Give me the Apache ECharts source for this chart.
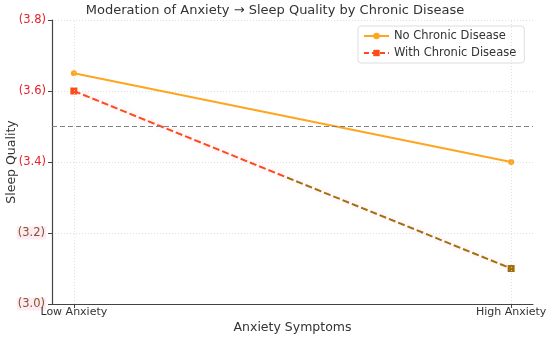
<!DOCTYPE html>
<html><head><meta charset="utf-8">
<script src="https://cdn.jsdelivr.net/npm/echarts@6/dist/echarts.min.js"></script>
<style>html,body{margin:0;padding:0;background:#fff}#c{width:550px;height:340px}</style>
</head><body><div id="c"></div>
<script>
var categories = ['Low Anxiety', 'High Anxiety'];
var noChronic = [3.65, 3.40];
var withChronic = [3.60, 3.10];
var yTicks = [3.0, 3.2, 3.4, 3.6, 3.8];
var refValue = 3.5;
var seriesNames = ['No Chronic Disease', 'With Chronic Disease'];

var FONT = 'DejaVu Sans';
var ORANGE = '#ffa51f';
var RED = '#ff4a1c';
var BROWN = '#a0700c';
var LABEL_RED = '#e8202a';
var LABEL_BROWN = '#85562c';

function pts(arr){ return arr.map(function(v,i){ return [i, v]; }); }

var chart = echarts.init(document.getElementById('c'));
chart.setOption({
  animation: false,
  textStyle: { fontFamily: FONT },
  title: {
    text: 'Moderation of Anxiety \u2192 Sleep Quality by Chronic Disease',
    left: 'center', top: -1,
    textStyle: { fontFamily: FONT, fontSize: 13, fontWeight: 'normal', color: '#333' }
  },
  legend: {
    orient: 'vertical', left: 358, top: 26,
    padding: [4, 8, 4, 5], itemGap: 5, itemWidth: 25, itemHeight: 8,
    backgroundColor: '#fff',
    borderColor: '#ddd', borderWidth: 1, borderRadius: 3,
    textStyle: { fontFamily: FONT, fontSize: 11.5, color: '#333' },
    data: [
      { name: seriesNames[0], itemStyle: { color: ORANGE }, lineStyle: { color: ORANGE } },
      { name: seriesNames[1], itemStyle: { color: RED }, lineStyle: { color: RED, type: [5, 3] } }
    ]
  },
  grid: { left: 52, right: 17, top: 20, bottom: 36, containLabel: false, outerBoundsMode: 'none' },
  xAxis: {
    type: 'value', min: -0.05, max: 1.05,
    name: 'Anxiety Symptoms', nameLocation: 'middle', nameGap: 17, nameMoveOverlap: false,
    nameTextStyle: { fontFamily: FONT, fontSize: 12.5, color: '#333' },
    axisLine: { show: true, onZero: false, lineStyle: { color: '#444', width: 1.2 } },
    axisTick: { show: true, customValues: [0, 1], length: 4, lineStyle: { color: '#444' } },
    axisLabel: { customValues: [0, 1], margin: 3, fontFamily: FONT, fontSize: 11, color: '#333',
      formatter: function(v){ return categories[Math.round(v)]; } },
    splitLine: { show: false }
  },
  yAxis: {
    type: 'value', min: 3.0, max: 3.8, interval: 0.2,
    name: 'Sleep Quality', nameLocation: 'middle', nameGap: 34, nameRotate: 90, nameMoveOverlap: false,
    nameTextStyle: { fontFamily: FONT, fontSize: 12.5, color: '#333' },
    axisLine: { show: true, onZero: false, lineStyle: { color: '#444', width: 1.2 } },
    axisTick: { show: true, length: 4, lineStyle: { color: '#444' } },
    axisLabel: { margin: 6, fontFamily: FONT, fontSize: 11.5,
      color: function(v){ return parseFloat(v) < 3.3 ? LABEL_BROWN : LABEL_RED; },
      formatter: function(v){
        var s = '(' + v.toFixed(1) + ')';
        return v < 3.3 ? '{b|' + s + '}' : s;
      },
      rich: {
        b: { color: LABEL_BROWN, fontFamily: FONT, fontSize: 11.5, backgroundColor: '#fdeaf2', padding: [1, 1, 0, 1] }
      }
    },
    splitLine: { show: true, lineStyle: { color: '#d8d8d8', type: [1, 2], width: 0.8 } }
  },
  series: [
    {
      name: seriesNames[0], type: 'line', data: pts(noChronic),
      symbol: 'circle', symbolSize: 6,
      itemStyle: { color: ORANGE },
      lineStyle: { color: ORANGE, width: 2 },
      z: 3,
      markLine: {
        silent: true, symbol: 'none', label: { show: false },
        lineStyle: { color: '#d8d8d8', type: [1, 2], width: 0.8 },
        data: [{ xAxis: 0 }, { xAxis: 1 }]
      }
    },
    {
      name: seriesNames[1], type: 'line',
      data: pts(withChronic).map(function(p, i){
        return { value: p, itemStyle: { color: i === 0 ? RED : BROWN } };
      }),
      symbol: 'rect', symbolSize: 7,
      itemStyle: { color: RED },
      lineStyle: {
        width: 2, type: [7, 3],
        color: new echarts.graphic.LinearGradient(0, 0, 1, 0, [
          { offset: 0, color: RED }, { offset: 0.48, color: RED },
          { offset: 0.48, color: BROWN }, { offset: 1, color: BROWN }
        ]),
        shadowColor: 'rgba(255,190,220,0.6)', shadowBlur: 5
      },
      z: 4,
      markLine: {
        silent: true, symbol: 'none', label: { show: false },
        lineStyle: { color: '#808080', type: [5, 3], width: 1 },
        data: [{ yAxis: refValue }]
      }
    }
  ]
});
</script></body></html>
